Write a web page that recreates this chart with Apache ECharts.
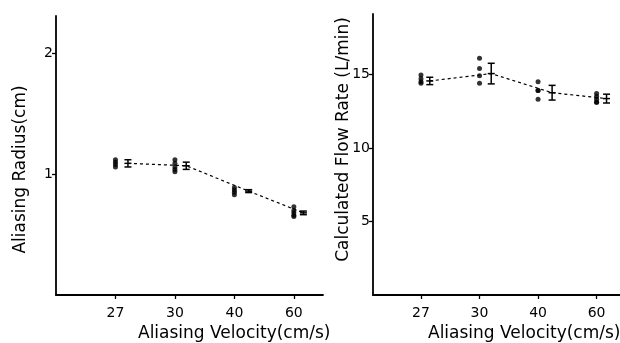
<!DOCTYPE html>
<html>
<head>
<meta charset="utf-8">
<script src="https://cdn.jsdelivr.net/npm/echarts@6/dist/echarts.min.js"></script>
<style>
  html, body { margin: 0; padding: 0; background: #fff; }
  #chart { width: 620px; height: 343px; }
</style>
</head>
<body>
<div id="chart"></div>
<script>
// velocity categories, placed at 1..4 on each x axis
const velocityLabels = ['27', '30', '40', '60'];
const velocityPos = [1, 2, 3, 4];

// left panel: aliasing radius (cm)
const radiusDots = [
    [1.12, 1.10, 1.08, 1.06],
    [1.12, 1.09, 1.06, 1.04, 1.02],
    [0.89, 0.87, 0.85, 0.83],
    [0.73, 0.70, 0.68, 0.66, 0.65]
];
const radiusMean = [1.09, 1.07, 0.86, 0.68];
const radiusSD = [0.03, 0.03, 0.012, 0.015];
const radiusTicks = [1, 2];

// right panel: calculated flow rate (L/min)
const flowDots = [
    [14.95, 14.7, 14.5, 14.4],
    [16.1, 15.4, 14.9, 14.4],
    [14.5, 13.9, 13.9, 13.3],
    [13.7, 13.5, 13.3, 13.1, 13.1]
];
const flowMean = [14.55, 15.05, 13.75, 13.35];
const flowSD = [0.25, 0.7, 0.5, 0.3];
const flowTicks = [5, 10, 15];

// mean/SD markers sit a little to the right of the raw dots
const meanShiftLeft = [0.21, 0.19, 0.24, 0.16];
const meanShiftRight = [0.15, 0.2, 0.24, 0.17];

const chart = echarts.init(document.getElementById('chart'));
const font = 'DejaVu Sans';
const ink = '#000';

function dotData(dots) {
    const out = [];
    dots.forEach((vals, i) => vals.forEach(v => out.push([velocityPos[i], v])));
    return out;
}

function barData(mean, sd, shift) {
    return mean.map((m, i) => [velocityPos[i] + shift[i], m, m - sd[i], m + sd[i]]);
}

function renderBar(params, api) {
    const x = api.value(0);
    const mid = api.coord([x, api.value(1)]);
    const lo = api.coord([x, api.value(2)]);
    const hi = api.coord([x, api.value(3)]);
    const w = 3.5;
    const style = { stroke: ink, lineWidth: 1.5 };
    return {
        type: 'group',
        children: [
            { type: 'line', shape: { x1: mid[0], y1: lo[1], x2: mid[0], y2: hi[1] }, style },
            { type: 'line', shape: { x1: mid[0] - w, y1: lo[1], x2: mid[0] + w, y2: lo[1] }, style },
            { type: 'line', shape: { x1: mid[0] - w, y1: hi[1], x2: mid[0] + w, y2: hi[1] }, style },
            { type: 'line', shape: { x1: mid[0] - w, y1: mid[1], x2: mid[0] + w, y2: mid[1] }, style }
        ]
    };
}

function xAxisFor(idx, min, max) {
    return {
        type: 'value', gridIndex: idx, min: min, max: max,
        splitLine: { show: false },
        axisLine: { onZero: false, lineStyle: { color: ink, width: 1.8 } },
        axisTick: { customValues: velocityPos, length: 4, lineStyle: { color: ink, width: 1.3 } },
        axisLabel: {
            customValues: velocityPos, color: ink, fontFamily: font, fontSize: 14, margin: 11,
            formatter: v => velocityLabels[velocityPos.indexOf(v)]
        }
    };
}

function yAxisFor(idx, max, ticks, name, gap, pad) {
    return {
        type: 'value', gridIndex: idx, min: 0, max: max,
        splitLine: { show: false },
        axisLine: { onZero: false, lineStyle: { color: ink, width: 1.8 } },
        axisTick: { customValues: ticks, length: 4, lineStyle: { color: ink, width: 1.3 } },
        axisLabel: { customValues: ticks, color: ink, fontFamily: font, fontSize: 14, margin: 3 },
        name: name, nameLocation: 'middle', nameGap: gap, nameMoveOverlap: false,
        nameTextStyle: { color: ink, fontFamily: font, fontSize: 17, padding: pad }
    };
}

const option = {
    animation: false,
    backgroundColor: '#fff',
    grid: [
        { left: 56, top: 16, width: 267, height: 279 },
        { left: 373, top: 14, width: 247, height: 281 }
    ],
    xAxis: [xAxisFor(0, 0, 4.49), xAxisFor(1, 0.18, 4.4)],
    yAxis: [
        yAxisFor(0, 2.31, radiusTicks, 'Aliasing Radius(cm)', 27, [0, 28, 0, 0]),
        yAxisFor(1, 19.1, flowTicks, 'Calculated Flow Rate (L/min)', 21, [0, 0, 0, 30])
    ],
    graphic: [
        { type: 'text', left: 138, top: 325, style: { text: 'Aliasing Velocity(cm/s)', font: '17px "DejaVu Sans"', fill: ink } },
        { type: 'text', left: 428, top: 325, style: { text: 'Aliasing Velocity(cm/s)', font: '17px "DejaVu Sans"', fill: ink } }
    ],
    series: [
        {
            type: 'line', xAxisIndex: 0, yAxisIndex: 0, symbol: 'none',
            data: barData(radiusMean, radiusSD, meanShiftLeft).map(d => [d[0], d[1]]),
            lineStyle: { color: ink, width: 1.2, type: [3, 3] }
        },
        {
            type: 'scatter', xAxisIndex: 0, yAxisIndex: 0, symbolSize: 5,
            itemStyle: { color: ink }, data: dotData(radiusDots)
        },
        {
            type: 'custom', xAxisIndex: 0, yAxisIndex: 0, renderItem: renderBar,
            data: barData(radiusMean, radiusSD, meanShiftLeft)
        },
        {
            type: 'line', xAxisIndex: 1, yAxisIndex: 1, symbol: 'none',
            data: barData(flowMean, flowSD, meanShiftRight).map(d => [d[0], d[1]]),
            lineStyle: { color: ink, width: 1.2, type: [3, 3] }
        },
        {
            type: 'scatter', xAxisIndex: 1, yAxisIndex: 1, symbolSize: 5,
            itemStyle: { color: ink }, data: dotData(flowDots)
        },
        {
            type: 'custom', xAxisIndex: 1, yAxisIndex: 1, renderItem: renderBar,
            data: barData(flowMean, flowSD, meanShiftRight)
        }
    ]
};

chart.setOption(option);
</script>
</body>
</html>
